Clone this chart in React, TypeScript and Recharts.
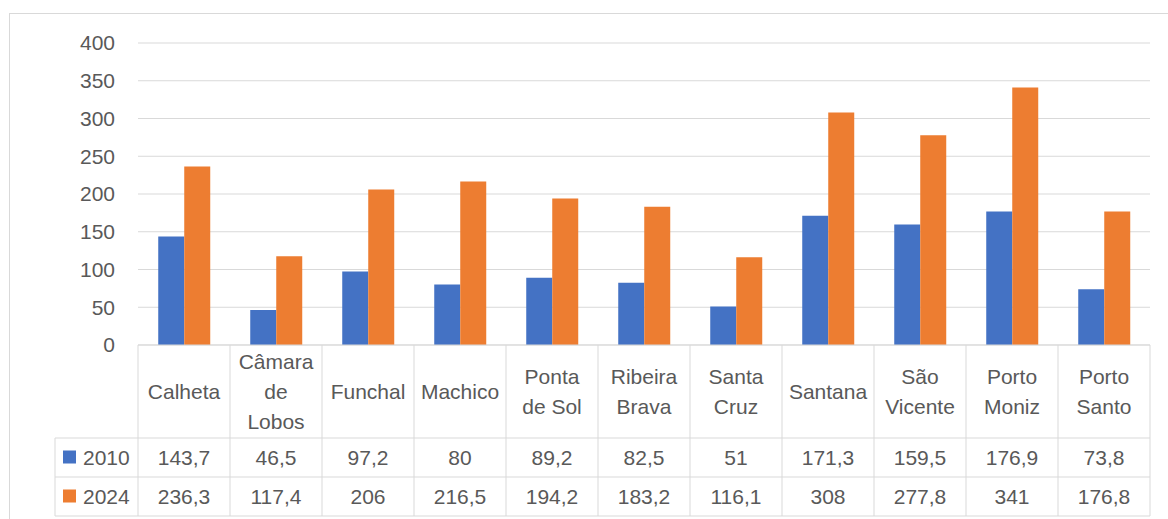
import React from 'react';
import { BarChart, Bar, XAxis, YAxis, CartesianGrid } from 'recharts';

const categories = [
  'Calheta', 'Câmara de Lobos', 'Funchal', 'Machico', 'Ponta de Sol', 'Ribeira Brava',
  'Santa Cruz', 'Santana', 'São Vicente', 'Porto Moniz', 'Porto Santo',
];
const categoryLines = [
  ['Calheta'], ['Câmara', 'de', 'Lobos'], ['Funchal'], ['Machico'], ['Ponta', 'de Sol'],
  ['Ribeira', 'Brava'], ['Santa', 'Cruz'], ['Santana'], ['São', 'Vicente'], ['Porto', 'Moniz'], ['Porto', 'Santo'],
];
const values2010 = [143.7, 46.5, 97.2, 80, 89.2, 82.5, 51, 171.3, 159.5, 176.9, 73.8];
const values2024 = [236.3, 117.4, 206, 216.5, 194.2, 183.2, 116.1, 308, 277.8, 341, 176.8];
const yTicks = [0, 50, 100, 150, 200, 250, 300, 350, 400];

const data = categories.map((name, i) => ({ name, y2010: values2010[i], y2024: values2024[i] }));

const W = 1168;
const H = 519;
const PLOT_LEFT = 138;
const PLOT_RIGHT = 1150;
const PLOT_TOP = 43;
const PLOT_BOTTOM = 345;
const ROW1 = 438;
const ROW2 = 477;
const ROW3 = 516;
const LEGEND_LEFT = 55;
const CELL_W = (PLOT_RIGHT - PLOT_LEFT) / categories.length;

const GRID = '#d9d9d9';
const TEXT = '#595959';
const BLUE = '#4472C4';
const ORANGE = '#ED7D31';
const FONT = '"Liberation Sans", Arial, sans-serif';
const FS = 21;

const fmt = (v: number) => String(v).replace('.', ',');

const TableTick = (props: any) => {
  const { x, payload } = props;
  const i = payload.index;
  const lines = categoryLines[i];
  const left = x - CELL_W / 2;
  const right = x + CELL_W / 2;
  const lh = 30;
  const startY = (PLOT_BOTTOM + ROW1) / 2 - ((lines.length - 1) * lh) / 2;
  return (
    <g fontFamily={FONT} fontSize={FS} fill={TEXT}>
      {i === 0 && (
        <g>
          <line x1={left} y1={PLOT_BOTTOM} x2={left} y2={ROW3} stroke={GRID} />
          <line x1={LEGEND_LEFT} y1={ROW1} x2={left} y2={ROW1} stroke={GRID} />
          <line x1={LEGEND_LEFT} y1={ROW2} x2={left} y2={ROW2} stroke={GRID} />
          <line x1={LEGEND_LEFT} y1={ROW3} x2={left} y2={ROW3} stroke={GRID} />
          <line x1={LEGEND_LEFT} y1={ROW1} x2={LEGEND_LEFT} y2={ROW3} stroke={GRID} />
          <rect x={63} y={(ROW1 + ROW2) / 2 - 7} width={13} height={13} fill={BLUE} />
          <text x={83} y={(ROW1 + ROW2) / 2} dominantBaseline="central">2010</text>
          <rect x={63} y={(ROW2 + ROW3) / 2 - 7} width={13} height={13} fill={ORANGE} />
          <text x={83} y={(ROW2 + ROW3) / 2} dominantBaseline="central">2024</text>
        </g>
      )}
      <line x1={right} y1={PLOT_BOTTOM} x2={right} y2={ROW3} stroke={GRID} />
      <line x1={left} y1={ROW1} x2={right} y2={ROW1} stroke={GRID} />
      <line x1={left} y1={ROW2} x2={right} y2={ROW2} stroke={GRID} />
      <line x1={left} y1={ROW3} x2={right} y2={ROW3} stroke={GRID} />
      {lines.map((t, k) => (
        <text key={k} x={x} y={startY + k * lh} textAnchor="middle" dominantBaseline="central">{t}</text>
      ))}
      <text x={x} y={(ROW1 + ROW2) / 2} textAnchor="middle" dominantBaseline="central">{fmt(values2010[i])}</text>
      <text x={x} y={(ROW2 + ROW3) / 2} textAnchor="middle" dominantBaseline="central">{fmt(values2024[i])}</text>
    </g>
  );
};

export default function App() {
  return (
    <div style={{ position: 'absolute', left: 0, top: 0, width: W, height: H, overflow: 'hidden', background: '#fff' }}>
      <div style={{ position: 'absolute', left: 9, top: 13, width: 1200, height: 600, border: `1px solid ${GRID}` }} />
      <div style={{ position: 'absolute', left: 0, top: 0 }}>
        <BarChart
          width={W}
          height={H}
          data={data}
          margin={{ top: PLOT_TOP, right: W - PLOT_RIGHT, left: 0, bottom: H - ROW3 }}
          barCategoryGap="22%"
          barGap={0}
        >
          <CartesianGrid vertical={false} stroke={GRID} strokeWidth={1} />
          <XAxis
            dataKey="name"
            interval={0}
            height={ROW3 - PLOT_BOTTOM}
            axisLine={{ stroke: GRID }}
            tickLine={false}
            tick={<TableTick />}
          />
          <YAxis
            width={PLOT_LEFT}
            domain={[0, 400]}
            ticks={yTicks}
            axisLine={false}
            tickLine={false}
            tickMargin={17}
            tick={{ fontSize: FS, fill: TEXT, fontFamily: FONT }}
          />
          <Bar dataKey="y2010" fill={BLUE} isAnimationActive={false} />
          <Bar dataKey="y2024" fill={ORANGE} isAnimationActive={false} />
        </BarChart>
      </div>
    </div>
  );
}
